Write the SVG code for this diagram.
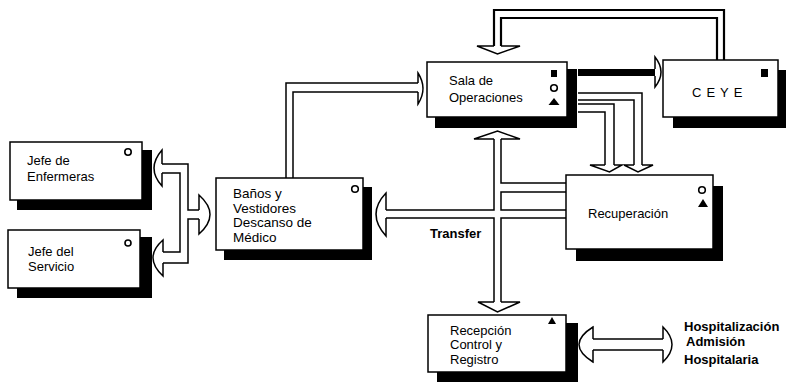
<svg xmlns="http://www.w3.org/2000/svg" width="787" height="383" viewBox="0 0 787 383">
<style>
.box{fill:#fff;stroke:#000;stroke-width:1.5}
.sh{fill:#000}
.t{font-family:"Liberation Sans",Arial,sans-serif;font-size:13px;fill:#000}
.b{font-weight:bold}
.c{fill:none;stroke:#000;stroke-width:1.5;stroke-linejoin:miter}
.cw{fill:none;stroke:#000;stroke-width:2.2}
.sym{fill:#000}
.o{fill:none;stroke:#000;stroke-width:1.6}
</style>
<rect width="787" height="383" fill="#fff"/>
<g id="connectors">
  <!-- CEYE -> Sala (top loop) -->
  <path class="cw" d="M724,60 V10 H494 V46"/>
  <path class="cw" d="M717,60 V18 H501 V46"/>
  <path class="c" d="M494,46 H477 L497.5,54 L520,46 H501"/>
  <!-- Banos -> Sala -->
  <path class="c" d="M286,178 V83 H418"/>
  <path class="c" d="M293,178 V92 H418"/>
  <path class="c" d="M418,83 V73 Q428,88.5 418,104 V92"/>
  <!-- Sala -> CEYE -->
  <rect x="578" y="69" width="77" height="7" fill="#000"/>
  <path class="c" d="M655,69 V57 Q667,72 655,87 V76"/>
  <!-- Sala -> Recuperacion (two) -->
  <path class="c" d="M578,93 H642 V165"/>
  <path class="c" d="M578,100 H634 V165"/>
  <path class="c" d="M634,165 H624 L638,172 L653,165 H642"/>
  <path class="c" d="M578,104 H614 V165"/>
  <path class="c" d="M578,112 H605 V165"/>
  <path class="c" d="M605,165 H590 L609.5,172 L622,165 H614"/>
  <!-- Transfer cross -->
  <path class="c" d="M494,139 V210 H386"/>
  <path class="c" d="M386,218 H494 V302"/>
  <path class="c" d="M501,139 V183 H566"/>
  <path class="c" d="M566,192 H501 V210 H566"/>
  <path class="c" d="M566,218 H501 V302"/>
  <path class="c" d="M494,139 H474 L497.5,131 L520,139 H501"/>
  <path class="c" d="M386,210 V193 Q366,214 386,236 V218"/>
  <path class="c" d="M494,302 H478 L497.5,312 L520,302 H501"/>
  <!-- Banos <-> Jefes -->
  <path class="c" d="M162,164 H188 V210 H199"/>
  <path class="c" d="M162,173 H180 V252 H163"/>
  <path class="c" d="M199,219 H188 V263 H163"/>
  <path class="c" d="M162,164 V150 Q146,168.5 162,186 V173"/>
  <path class="c" d="M163,252 V240 Q143,257.5 163,276 V263"/>
  <path class="c" d="M199,210 V195 Q221,214.5 199,234 V219"/>
  <!-- Recepcion <-> Hospitalizacion -->
  <path class="c" d="M593,339 H663 M593,350 H663"/>
  <path class="c" d="M593,339 V327 Q565,344.5 593,362 V350"/>
  <path class="c" d="M663,339 V327 Q681,344.5 663,362 V350"/>
  <text class="t b" x="430" y="238">Transfer</text>
</g>
<g id="sala">
  <rect class="sh" x="435" y="69" width="142" height="59"/>
  <rect class="box" x="427" y="62" width="140" height="55"/>
  <text class="t" x="449" y="85">Sala de</text>
  <text class="t" x="449" y="102">Operaciones</text>
  <rect class="sym" x="551" y="70" width="6" height="7"/>
  <circle class="o" cx="554" cy="88" r="3.3"/>
  <path class="sym" d="M548.5,105 L554,98 L559.5,105 Z"/>
</g>
<g id="ceye">
  <rect class="sh" x="673" y="70" width="113" height="58"/>
  <rect class="box" x="663" y="60" width="115" height="57"/>
  <text class="t" x="692" y="97" letter-spacing="5">CEYE</text>
  <rect class="sym" x="761" y="69" width="7" height="8"/>
</g>
<g id="recuperacion">
  <rect class="sh" x="576" y="186" width="147" height="75"/>
  <rect class="box" x="566" y="175" width="147" height="74"/>
  <text class="t" x="588" y="218">Recuperación</text>
  <circle class="o" cx="702" cy="190" r="3.3"/>
  <path class="sym" d="M698,207 L703,199 L708,207 Z"/>
</g>
<g id="banos">
  <rect class="sh" x="224" y="187" width="148" height="73"/>
  <rect class="box" x="216" y="178" width="147" height="72"/>
  <text class="t" x="233" y="198" style="font-size:13.5px">Baños y</text>
  <text class="t" x="233" y="212.5" style="font-size:13.5px">Vestidores</text>
  <text class="t" x="233" y="227" style="font-size:13.5px">Descanso de</text>
  <text class="t" x="233" y="241.5" style="font-size:13.5px">Médico</text>
  <circle class="o" cx="355" cy="189" r="3.3"/>
</g>
<g id="jefe-enfermeras">
  <rect class="sh" x="17" y="150" width="135" height="60"/>
  <rect class="box" x="10" y="142" width="132" height="58"/>
  <text class="t" x="27" y="165">Jefe de</text>
  <text class="t" x="27" y="181">Enfermeras</text>
  <circle class="o" cx="128" cy="152" r="3.2"/>
</g>
<g id="jefe-servicio">
  <rect class="sh" x="17" y="237" width="135" height="61"/>
  <rect class="box" x="8" y="230" width="132" height="58"/>
  <text class="t" x="28" y="256">Jefe del</text>
  <text class="t" x="28" y="271">Servicio</text>
  <circle class="o" cx="128" cy="243" r="3"/>
</g>
<g id="recepcion">
  <rect class="sh" x="437" y="323" width="141" height="59"/>
  <rect class="box" x="428" y="315" width="138" height="57"/>
  <text class="t" x="450" y="334.5">Recepción</text>
  <text class="t" x="450" y="349">Control y</text>
  <text class="t" x="450" y="363.5">Registro</text>
  <path class="sym" d="M548,324 L552,317 L556,324 Z"/>
</g>
<g id="hospitalizacion">
  <text class="t b" x="684" y="331" style="font-size:13px">Hospitalización</text>
  <text class="t b" x="686" y="346" style="font-size:13px">Admisión</text>
  <text class="t b" x="684" y="364" style="font-size:13px">Hospitalaria</text>
</g>
</svg>
